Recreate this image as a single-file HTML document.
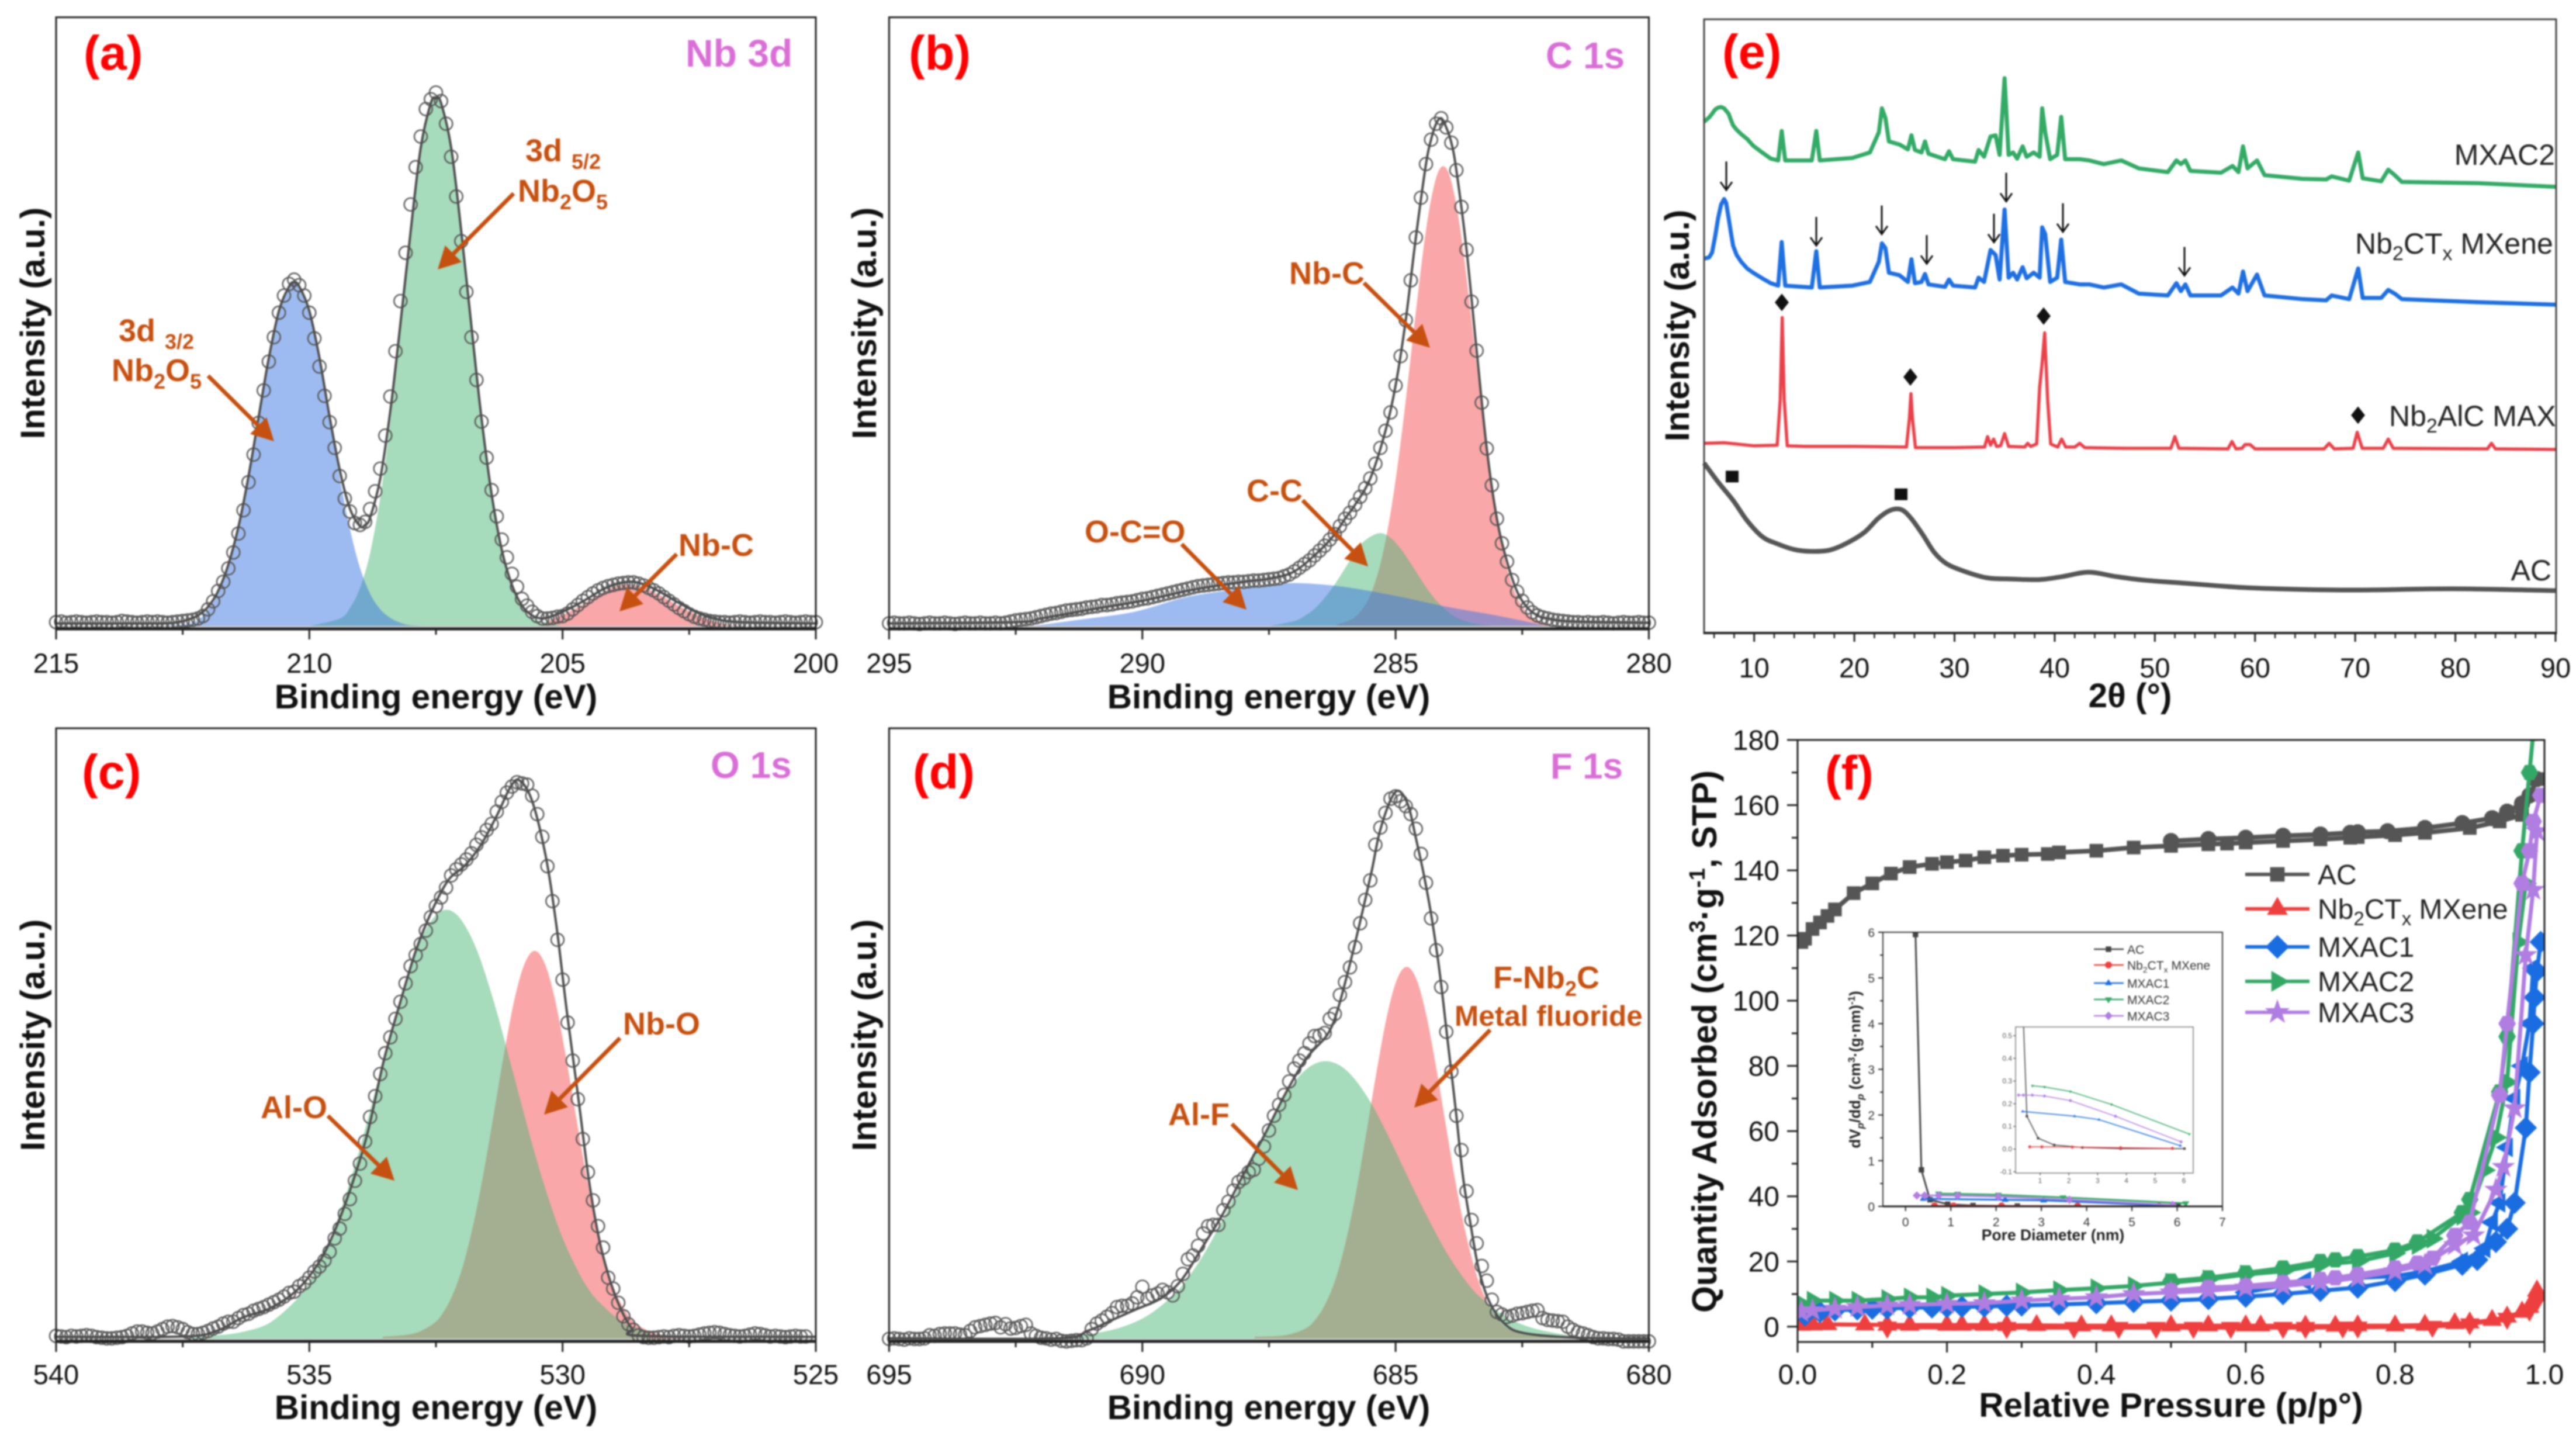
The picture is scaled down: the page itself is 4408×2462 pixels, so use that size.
<!DOCTYPE html>
<html lang="en">
<head>
<meta charset="utf-8">
<title>XPS, XRD and BET characterisation of Nb2CTx MXene and MXAC composites</title>
<style>
html,body{margin:0;padding:0;background:#fff;}
svg{display:block;font-family:"Liberation Sans",sans-serif;filter:blur(1.2px);}
.lab{font-weight:700;font-size:83px;fill:#f00;}
.core{font-weight:700;fill:#d96fd6;}
.ann{font-weight:700;font-size:54px;fill:#c5500f;}
.ttl{font-weight:700;font-size:58.5px;fill:#111;}
.srs{font-size:50px;fill:#222;}
.leg{font-size:48px;fill:#222;}
.ileg{font-size:21px;fill:#333;}
</style>
</head>
<body>
<svg id="figure" xmlns="http://www.w3.org/2000/svg" width="4408" height="2462" viewBox="0 0 4408 2462">
<rect width="4408" height="2462" fill="#fff"/>
<defs>
<clipPath id="clip-f"><rect x="3076" y="1266" width="1278" height="1030"/></clipPath>
<clipPath id="clip-inset"><rect x="3222" y="1595" width="581" height="469"/></clipPath>
<clipPath id="clip-nested"><rect x="3449" y="1757" width="304" height="250"/></clipPath>
</defs>

<g id="panel-a"></g>
<g id="panel-b"></g>
<g id="panel-c"></g>
<g id="panel-d"></g>
<g id="panel-e"></g>
<g id="panel-f"></g>
<g id="annotations"></g>

<g>
<text class="lab" x="143" y="119">(a)</text>
<text class="core" x="1173" y="114" font-size="66">Nb 3d</text>
<text class="ttl" x="746" y="1212" text-anchor="middle">Binding energy (eV)</text>
<text class="ttl" transform="translate(76 553) rotate(-90)" text-anchor="middle">Intensity (a.u.)</text>
<text class="ann" x="899" y="276">3d<tspan font-size="36" dx="16" dy="13">5/2</tspan></text>
<text class="ann" x="886" y="345">Nb<tspan font-size="36" dy="13">2</tspan><tspan dy="-13">O</tspan><tspan font-size="36" dy="13">5</tspan></text>
<text class="ann" x="203" y="584">3d<tspan font-size="36" dx="16" dy="13">3/2</tspan></text>
<text class="ann" x="191" y="652">Nb<tspan font-size="36" dy="13">2</tspan><tspan dy="-13">O</tspan><tspan font-size="36" dy="13">5</tspan></text>
<text class="ann" x="1161" y="951">Nb-C</text>
</g>

<g>
<text class="lab" x="1555" y="119">(b)</text>
<text class="core" x="2645" y="117" font-size="64">C 1s</text>
<text class="ttl" x="2171" y="1212" text-anchor="middle">Binding energy (eV)</text>
<text class="ttl" transform="translate(1499 553) rotate(-90)" text-anchor="middle">Intensity (a.u.)</text>
<text class="ann" x="2206" y="486">Nb-C</text>
<text class="ann" x="2133" y="858">C-C</text>
<text class="ann" x="1856" y="928">O-C=O</text>
</g>

<g>
<text class="lab" x="140" y="1349">(c)</text>
<text class="core" x="1216" y="1331" font-size="64">O 1s</text>
<text class="ttl" x="746" y="2428" text-anchor="middle">Binding energy (eV)</text>
<text class="ttl" transform="translate(76 1771) rotate(-90)" text-anchor="middle">Intensity (a.u.)</text>
<text class="ann" x="1066" y="1770">Nb-O</text>
<text class="ann" x="446" y="1913">Al-O</text>
</g>

<g>
<text class="lab" x="1562" y="1349">(d)</text>
<text class="core" x="2653" y="1332" font-size="62">F 1s</text>
<text class="ttl" x="2171" y="2428" text-anchor="middle">Binding energy (eV)</text>
<text class="ttl" transform="translate(1499 1771) rotate(-90)" text-anchor="middle">Intensity (a.u.)</text>
<text class="ann" x="2555" y="1691">F-Nb<tspan font-size="36" dy="13">2</tspan><tspan dy="-13">C</tspan></text>
<text class="ann" x="2489" y="1755" style="font-size:49.5px">Metal fluoride</text>
<text class="ann" x="1999" y="1925">Al-F</text>
</g>

<g>
<text class="lab" x="2947" y="117">(e)</text>
<text class="ttl" x="3645" y="1210" text-anchor="middle">2θ (°)</text>
<text class="ttl" transform="translate(2890 557) rotate(-90)" text-anchor="middle">Intensity (a.u.)</text>
<text class="srs" x="4372" y="282" text-anchor="end">MXAC2</text>
<text class="srs" x="4030" y="434">Nb<tspan font-size="34" dy="11">2</tspan><tspan dy="-11">CT</tspan><tspan font-size="34" dy="11">x</tspan><tspan dy="-11"> MXene</tspan></text>
<text class="srs" x="4088" y="729">Nb<tspan font-size="34" dy="11">2</tspan><tspan dy="-11">AlC MAX</tspan></text>
<text class="srs" x="4366" y="993" text-anchor="end">AC</text>
</g>

<g>
<text class="lab" x="3123" y="1351">(f)</text>
<text class="ttl" x="3715" y="2424" text-anchor="middle">Relative Pressure (p/p°)</text>
<text class="ttl" transform="translate(2937 1782) rotate(-90)" text-anchor="middle" style="font-size:59px">Quantity Adsorbed (cm<tspan font-size="38" dy="-20">3</tspan><tspan dy="20">·g</tspan><tspan font-size="38" dy="-20">-1</tspan><tspan dy="20">, STP)</tspan></text>
<text x="3513" y="2122" text-anchor="middle" font-size="26.5" font-weight="700" fill="#222">Pore Diameter (nm)</text>
<text transform="translate(3183 1830) rotate(-90)" text-anchor="middle" font-size="26" font-weight="700" fill="#222">dV<tspan font-size="17" font-style="italic" dy="6">p</tspan><tspan dy="-6">/dd</tspan><tspan font-size="17" font-style="italic" dy="6">p</tspan><tspan dy="-6"> (cm</tspan><tspan font-size="17" dy="-9">3</tspan><tspan dy="9">·(g·nm)</tspan><tspan font-size="17" dy="-9">-1</tspan><tspan dy="9">)</tspan></text>
</g>
</svg>

<script>
// ---------- Panel (a) Nb 3d data ----------
const aTicks = [215, 210, 205, 200];
const aCircleStart = 215;
const aCircleStep = -0.1;
const aCircleI = [1.1,1.2,1.0,1.1,1.2,1.1,1.0,1.1,1.2,1.1,1.1,1.0,1.1,1.3,1.2,1.1,1.0,1.1,1.2,1.1,1.2,1.1,1.0,1.1,1.2,1.3,1.4,1.5,1.7,
2.1,3.2,4.5,6.2,7.7,9.9,12.5,15.6,19.4,24.0,28.5,33.7,39.0,43.7,47.7,51.7,54.5,56.4,57.1,56.2,54.5,51.7,47.5,42.9,38.1,33.8,29.6,25.0,21.3,19.2,17.3,17.0,17.5,19.6,22.5,26.2,31.6,38.0,45.4,53.6,61.5,69.4,75.5,80.5,85.0,86.6,87.7,86.3,82.6,77.2,70.7,63.4,55.1,47.7,40.7,33.9,28.0,22.7,18.4,14.6,11.7,9.0,6.9,4.9,3.8,2.8,2.1,1.7,
1.7,1.8,2.0,2.1,2.5,3.2,3.9,4.6,5.2,5.8,6.3,6.7,7.0,7.2,7.4,7.5,7.6,7.6,7.4,7.1,6.7,6.3,5.8,5.2,4.6,4.0,3.4,2.9,2.4,2.0,1.7,1.5,1.3,1.2,
1.1,1.1,1.0,1.1,1.2,1.1,1.0,1.1,1.2,1.1,1.1,1.0,1.1,1.2,1.1,1.0,1.1,1.2,1.1,1.1];
const aFitE = [215,213,212.6,212.4,212.2,212,211.8,211.6,211.4,211.2,211,210.8,210.6,210.4,210.3,210.2,210,209.8,209.6,209.4,209.2,209,208.9,208.8,208.6,208.4,208.2,208,207.8,207.6,207.5,207.4,207.2,207,206.8,206.6,206.4,206.2,206,205.8,205.6,205.4,205.2,205,204.8,204.6,204.4,204.2,204,203.8,203.6,203.4,203.2,203,202.8,202.6,202.4,202.2,202,201.5,200];
const aFitI = [0.9,0.9,1.1,1.5,2.2,3.6,6.2,10.5,16.7,25,34.7,44.3,52,56,56.7,56,52,44.3,34.7,26,19.7,16.8,17,18.2,24.6,35.7,50,65,78.7,86,86.8,86,78.7,65,49.5,34.4,22,12.9,7.2,3.8,2.2,1.7,2.1,2.8,3.6,4.5,5.5,6.5,7.2,7.6,7.7,7.3,6.6,5.7,4.7,3.8,2.9,2.2,1.7,1.1,0.9];
const aBlueE = [213,212.3,212,211.8,211.6,211.4,211.2,211,210.8,210.6,210.4,210.3,210.2,210,209.8,209.6,209.4,209.2,209,208.8,208.6,208.4,208.2,208,207.6];
const aBlueI = [0.45,1.0,3.2,5.75,10,16.4,24.7,34.3,43.9,51.7,56.2,56.75,56.2,51.7,43.9,34.3,24.7,16.4,10,5.75,3.2,1.8,1,0.6,0.45];
const aGreenE = [210,209.4,209.2,209,208.8,208.6,208.4,208.2,208,207.8,207.6,207.5,207.4,207.2,207,206.8,206.6,206.4,206.2,206,205.8,205.6,205];
const aGreenI = [0.45,1.7,3.4,6.7,12.4,21.5,33.9,49,64.5,78.2,85.5,86.85,85.5,78.2,64.5,49,33.9,21.5,12.4,6.7,3.4,1.7,0.45];
const aPinkE = [205.4,205.2,205,204.8,204.6,204.4,204.2,204,203.8,203.68,203.4,203.2,203,202.8,202.6,202.4,202.2,202,201.8,201.5];
const aPinkI = [0.45,1.6,2.3,3.1,4,5,6,6.8,7.2,7.25,6.8,6,5.2,4.2,3.3,2.5,1.8,1.2,0.8,0.45];

// ---------- Panel (b) C 1s data ----------
const bTicks = [295, 290, 285, 280];
const bCircleStart = 295;
const bCircleStep = -0.1;
const bCircleI = [0.9,1.0,0.9,0.9,1.0,0.9,0.8,0.9,1.0,0.9,0.9,1.0,0.9,0.8,0.9,1.0,0.9,0.9,1.0,0.9,0.9,1.0,0.9,
1.0,1.2,1.4,1.5,1.6,1.7,1.9,2.1,2.3,2.5,2.6,2.8,3.0,3.1,3.2,3.3,3.5,3.6,3.7,3.9,3.9,4.0,4.2,4.3,4.4,4.5,4.7,4.9,5.0,5.2,5.4,5.6,5.8,6.0,6.2,6.4,6.6,6.8,7.0,7.1,7.2,7.3,7.4,7.5,7.6,7.6,7.7,7.7,7.8,7.9,7.9,8.0,8.1,8.2,8.3,8.6,8.9,9.4,10,10.6,11.2,12,12.8,13.6,14.6,15.5,16.8,18,19,20.3,21.6,23,24.6,27,29.6,32.4,35.4,39.8,44.6,50.5,57,64,70.5,76,80,82.6,83.5,82,79.5,75,69,62,53.5,45.5,37,29.5,23.5,18,14,11,8,6.1,4.6,3.5,2.7,2.2,1.9,1.7,1.5,1.4,1.3,1.2,
1.1,1.1,1.0,1.1,1.0,1.0,1.1,1.0,0.9,1.0,1.1,1.0,1.0,1.1,1.0,1.0];
const bFitE = [295,292.5,292,291,290,289,288,287.5,287,286.5,286.2,286,285.8,285.5,285.2,285,284.8,284.6,284.4,284.3,284.2,284.1,284,283.9,283.8,283.6,283.4,283.2,283,282.8,282.6,282.4,282.2,282,281.5,280];
const bFitI = [0.9,1.1,1.7,3.2,4.6,6.4,7.7,8.2,9.4,12.8,15.5,18,20.3,24.6,32.4,39.8,50.5,64,76,80,82.6,83.5,82,79.5,75,62,45.5,29.5,18,11,6.1,3.5,2.2,1.7,1.2,1.0];
const bRedE = [286.16,285.86,285.66,285.46,285.26,285.06,284.86,284.66,284.56,284.46,284.36,284.26,284.16,284.06,283.96,283.86,283.76,283.66,283.56,283.46,283.26,283.06,282.86,282.66,282.46,282.26,281.96];
const bRedI = [0.7,1.6,3.2,6.3,12,21,33.2,47.5,54.7,61.5,67.4,71.8,74.7,75.65,74.7,71.8,67.4,61.5,54.7,47.5,33.2,21,12,6.3,3.2,1.6,0.7];
const bGreenE = [287.5,287,286.8,286.6,286.4,286.2,286,285.8,285.6,285.32,285.1,284.9,284.7,284.5,284.3,284.1,283.9,283.7,283.4,283];
const bGreenI = [0.45,1.3,2.1,3.3,5.1,7.3,9.9,12.5,14.5,15.65,14.9,13.1,10.7,8.1,5.7,3.8,2.4,1.5,0.8,0.45];
const bBlueE = [292.2,291.2,290.16,289.13,288.1,287.5,286.96,286.04,285,283.98,282.95,282];
const bBlueI = [0.45,1.56,2.8,5.2,6.5,7.1,7.5,6.9,5.4,3.6,2.1,0.45];

// ---------- Panel (c) O 1s data ----------
const cTicks = [540, 535, 530, 525];
const cCircleStart = 540;
const cCircleStep = -0.1;
const cCircleI = [0.9,0.8,0.7,0.9,0.8,0.9,1.0,0.9,0.7,0.6,0.5,0.5,0.6,0.7,0.9,1.3,1.6,1.6,1.4,1.3,1.6,2.0,2.4,2.5,2.3,2.0,1.5,1.2,1.2,1.4,1.7,2.1,2.4,2.9,3.2,3.2,3.8,4.3,4.5,5.0,5.3,5.6,6.0,6.4,6.8,7.3,7.9,8.1,9.0,9.5,10.4,11.4,12.2,13.2,14.6,16.8,18.4,20.8,23.2,26.2,29,32.6,36.6,40,43.6,47,49.6,52.6,55.4,58.4,61.2,63,64.8,67,69.2,71,72.4,74,76,77,77.8,78.6,79.6,81,82.2,83.4,84.4,86.4,88,89.5,90.5,91.2,91,90.8,89,86,82.3,77.5,71.8,65.5,59,52,45.8,39.5,33,27.6,23,18.8,15.3,10.4,8.6,6.3,4.1,2.8,1.9,1.0,0.7,0.6,0.6,0.7,0.8,0.7,0.9,1.0,0.9,0.8,0.9,1.1,1.3,1.4,1.5,1.4,1.2,1.0,0.9,0.8,0.9,1.1,1.3,1.2,1.0,0.8,0.9,0.8,0.7,0.8,0.9,0.8,0.8];
const cFitE = [540,537.5,536.84,536.31,535.78,535.24,534.81,534.49,534.17,533.85,533.53,533.21,532.89,532.57,532.25,531.93,531.61,531.29,531.03,530.85,530.6,530.33,530.12,529.91,529.69,529.48,529.27,529.05,528.84,528.63,528.41,525];
const cFitI = [0.75,0.8,1.7,3.9,5.4,8.4,12.9,18.2,25.3,34,45.8,55.2,63.9,70.4,75.3,77.6,81,85.9,90.4,91.5,88.1,79,67.7,53.4,39.8,26.3,16.4,9.6,5.1,2.1,0.9,0.75];
const cGreenE = [537.29,536.79,536.29,535.79,535.29,535.04,534.79,534.54,534.29,534.04,533.79,533.54,533.29,533.09,532.89,532.69,532.49,532.29,532.09,531.89,531.69,531.49,531.29,531.04,530.79,530.54,530.29,530.04,529.79,529.54,529.29,528.79,528.29];
const cGreenI = [0.75,1.0,1.6,3,6.5,9.2,13,17.7,23.6,30.4,38,45.8,53.5,59,63.8,67.3,69.6,70.4,69.6,67.3,63.8,59,53.5,45.8,38,30.4,23.6,17.7,13,9.2,6.5,3,1.6];
const cPinkE = [533.55,532.95,532.55,532.35,532.15,531.95,531.75,531.55,531.35,531.15,530.95,530.75,530.55,530.35,530.15,529.95,529.75,529.55,529.35,529.15,528.95,528.75,528.55,528.15,527.55];
const cPinkI = [0.75,1.25,2.9,4.8,8,12.8,19.5,27.9,37.5,47.2,55.8,61.6,63.7,61.6,55.8,47.2,37.5,27.9,19.5,12.8,8,4.8,2.9,1.25,0.75];

// ---------- Panel (d) F 1s data ----------
const dTicks = [695, 690, 685, 680];
const dCircleStart = 695;
const dCircleStep = -0.1;
const dCircleI = [0.4,0.5,0.4,0.3,0.5,0.4,0.4,0.5,1.0,0.9,1.2,1.3,1.3,1.3,1.1,1.0,1.7,2.3,2.5,2.7,2.9,3.0,2.3,2.8,2.1,2.2,2.5,2.7,1.3,0.9,0.6,0.5,0.3,0.4,0.1,0.0,0.1,0.2,0.2,0.5,2.0,2.9,3.4,4.0,4.6,5.6,5.8,5.8,6.2,7.2,8.9,7.0,7.5,7.8,8.4,8.0,7.5,9.0,11,13.4,14,15.6,17.6,18.8,19,19,21.4,22.8,24.6,26,26.6,27.6,28,29.8,31.8,34.4,36.8,38.6,40.2,42.4,44.5,45.8,47,48.6,49.8,49.9,50.3,52.6,53.4,56.5,58.6,61,64.3,68.2,72,75.2,81,83.8,86.2,88.5,88.9,88.1,87.3,86,83.6,79.5,74.8,69,63.8,57.8,50.5,44,36.8,31.2,24.5,19.8,16,12.3,9.9,6.8,4.8,4.4,4,4.2,4.5,4.6,4.8,5,5.1,3.8,3.5,3.4,3.3,3.2,2.4,1.9,1.5,1.3,1,0.7,0.5,0.5,0.4,0.4,0.3,0,0,0,0,0,0];
const dFitE = [695,691.7,691.09,690.67,690.16,689.64,689.23,688.82,688.41,688,687.58,687.17,686.76,686.35,686.14,685.88,685.68,685.47,685.32,685.11,684.94,684.75,684.6,684.44,684.29,684.13,683.98,683.82,683.67,683.51,683.36,683.15,682.84,682.43,681.4,680];
const dFitI = [0.5,0.5,1.7,3.2,5.1,7,10,15.3,20.8,27.3,33.8,40.5,46.2,50,54.2,62.3,69.2,76.8,82.9,88.1,89.8,87.4,82.1,76,69.2,60.2,49.6,38.3,26.9,18.6,11.8,6.5,2.8,1.3,0.6,0.5];
const dGreenE = [691.38,690.88,690.38,689.88,689.38,689.08,688.78,688.48,688.18,687.88,687.58,687.28,686.98,686.68,686.38,686.08,685.78,685.48,685.18,684.88,684.58,684.28,683.98,683.68,683.38,682.88,682.38,681.88,681.38];
const dGreenI = [0.75,1.4,2.4,4.3,7.6,10.6,14.3,18.8,23.7,28.9,34.1,38.8,42.5,44.9,45.7,44.9,42.5,38.8,34.1,28.9,23.7,18.8,14.3,10.6,7.6,4.3,2.4,1.4,0.75];
const dPinkE = [687.78,687.18,686.78,686.58,686.38,686.18,685.98,685.78,685.58,685.38,685.18,684.98,684.78,684.58,684.38,684.18,683.98,683.78,683.58,683.38,683.18,682.98,682.78,682.38,681.78];
const dPinkI = [0.75,1,2.1,3.6,6.2,10.3,16.4,24.3,33.9,43.8,52.7,58.9,61.1,58.9,52.7,43.8,33.9,24.3,16.4,10.3,6.2,3.6,2.1,1,0.75];

// ---------- Panel (e) XRD data ----------
const eTicks = [10, 20, 30, 40, 50, 60, 70, 80, 90];
const eAcT = [5,6.4,7.9,9.3,10.8,12.2,14,15.7,17.5,19.2,21,22.4,23.6,24.7,25.65,26.8,28,29.2,30.9,33.2,35.6,38.5,40.8,43.4,46.1,49,53.1,58.9,64.7,70.6,79.9,90];
const eAcI = [27.7,24.6,21.6,18.3,15.7,14.6,13.6,13.3,13.5,14.6,16.4,18.7,20,20.1,18.7,16.1,13.1,11.3,10.1,9,8.8,8.7,9.2,9.9,9.2,8.6,8.1,7.4,7.1,7,7.2,6.9];
const eMaxT = [5,7,10,12.3,12.6,12.8,13,13.3,15,20,25.2,25.5,25.65,25.8,26.1,30,33,33.3,33.6,33.9,34.2,34.6,35,35.4,37,37.3,37.6,38.2,38.5,38.75,39,39.3,39.6,40.3,40.7,41.1,42,42.5,43,47,51.6,52,52.4,57.3,57.7,58.1,58.7,59,59.5,60,66.9,67.4,67.9,69.8,70.2,70.7,72.8,73.3,73.8,83.2,83.6,84,90];
const eMaxI = [30.9,31,30.5,30.6,38,51.4,38,30.5,30.4,30.4,30.3,35,39,35,30.2,30.2,30.3,32,30.6,31.6,30.4,30.5,32.5,30.4,30.3,30.9,30.4,30.8,40,44,48.9,38,30.8,30.3,31.6,30.3,30.3,30.9,30.2,30.1,30.1,32,30.1,30,31.2,30,30.1,30.7,30.7,30,30,30.9,30,30.1,32.7,30.1,30.1,31.6,30.1,30,30.9,30,29.9];
const eSharedT = [5,5.5,5.8,6.1,6.4,6.7,7,7.2,7.45,7.7,7.9,8.25,8.7,9.3,9.9,10.8,11.65,12.4,12.75,13.1,15.75,16.2,16.55,19.8,21.55,22.45,22.75,23.1,23.45,24.5,25.35,25.7,26.05,26.7,27.05,27.4,29.05,29.45,29.85,32.05,32.4,32.95,33.6,34.1,34.5,35,35.4,35.85,36.25,36.8,37.2,37.9,38.5,38.75,39.05,39.55,40.25,40.65,41.05,42.5,43.45,44.9,46.65,48.4,51.3,52.15,52.6,53.05,53.55,56.6,57.75,58.35,58.8,59.25,60.2,60.95,64.75,67.1,67.65,69.4,70.3,70.75,72.6,73.3,73.95,74.65,82.25,90];
const eMxeneI = [61,61.2,62,64.6,67.6,69.8,70.7,70.1,67.6,65,63.1,61.6,60.5,59.4,58.7,57.8,57,56.6,63.7,56.6,56.3,62.2,56.3,56.6,57.2,60.5,63.5,62.7,58.7,58.3,57.2,60.9,57.0,57.2,58.5,56.8,56.4,57.6,56.6,56.3,57.9,57.2,62.4,61.6,57.6,69.0,57.9,58.7,57.6,59.6,57.8,58.7,57.9,66.1,65.0,57.2,57.9,64.1,57.2,56.8,56.8,56.3,56.8,55.3,55.0,57.0,55.7,56.8,55.0,55.0,56.3,55.3,58.9,55.7,58.4,55.0,54.4,54.2,55.0,54.4,59.4,54.6,54.6,55.9,55.3,54.4,53.9,53.5];
const eMxac2I = [83.3,84,84.6,85.3,85.6,85.7,85.5,85.1,84.6,83.5,82.7,82,81.3,80.5,79.4,78.3,77.3,77.0,81.8,77.0,77.0,81.8,77.0,77.4,78.3,81.6,85.5,83.9,80.1,79.6,78.8,81.1,78.7,78.3,80.1,78.1,77.2,78.5,77.2,76.8,78.7,77.6,80.9,81.1,77.9,90.4,77.9,78.3,77.3,79.3,77.6,78.3,77.6,85.5,81.6,77.2,77.9,84.1,77.2,77.2,77.0,76.4,77.0,75.7,75.1,77.0,76.4,77.0,75.3,75.0,76.1,75.1,79.3,75.7,77.0,74.6,74,73.9,74.4,73.7,78.3,74.1,73.6,75.5,74.6,73.5,73.3,72.7];

// ---------- Panel (f) isotherm data ----------
const fXTicks = [0, 0.2, 0.4, 0.6, 0.8, 1];
const fXTickLabels = ['0.0', '0.2', '0.4', '0.6', '0.8', '1.0'];
const fYTicks = [0, 20, 40, 60, 80, 100, 120, 140, 160, 180];
const fAcAdsP = [0.005,0.01,0.02,0.03,0.04,0.05,0.075,0.1,0.125,0.15,0.18,0.2,0.225,0.25,0.275,0.3,0.335,0.35,0.4,0.45,0.5,0.55,0.575,0.6,0.65,0.7,0.74,0.75,0.8,0.84,0.9,0.94,0.97,0.99];
const fAcAdsQ = [118,119,122,124,126,128,133,136,139,141,142,142.5,143,144,144.5,144.8,145,145.5,146,147,147.5,148,148.2,148.5,149,149.5,150,150.2,150.8,151.5,153,155,157,168];
const fAcDesP = [0.5,0.55,0.6,0.65,0.7,0.74,0.75,0.79,0.84,0.89,0.93,0.95,0.97,0.98,0.99];
const fAcDesQ = [149,149.6,150,150.6,151,151.5,151.7,152,153,154.5,156,158,160.5,163,168];
const fNbAdsP = [0.005,0.02,0.04,0.09,0.12,0.15,0.2,0.22,0.25,0.28,0.32,0.38,0.42,0.5,0.55,0.6,0.62,0.68,0.72,0.75,0.8,0.84,0.88,0.9,0.93,0.95,0.97,0.98,0.99];
const fNbAdsQ = [0.5,0.6,0.7,0.6,0.5,0.5,0.5,0.5,0.5,0.4,0.4,0.3,0.3,0.3,0.3,0.3,0.3,0.2,0.2,0.3,0.3,0.5,1,1.2,2,3,4.5,6,11];
const fNbDesP = [0.12,0.28,0.37,0.43,0.48,0.53,0.58,0.65,0.68,0.73,0.75,0.85,0.9,0.95,0.98,0.99];
const fNbDesQ = [-0.2,-0.3,-0.3,-0.3,-0.3,-0.3,-0.3,-0.3,-0.3,-0.2,-0.2,0,0.8,2.5,5,8];
const fM1AdsP = [0.01,0.03,0.05,0.08,0.1,0.12,0.15,0.18,0.2,0.22,0.25,0.28,0.3,0.35,0.4,0.45,0.5,0.55,0.6,0.65,0.7,0.75,0.8,0.84,0.89,0.91,0.935,0.95,0.96,0.975,0.98,0.985,0.987,0.99,0.995];
const fM1AdsQ = [3.5,4.5,5,5.3,5.5,5.6,5.8,5.9,6,6.1,6.2,6.4,6.5,6.8,7.2,7.6,8,8.5,9.2,10,11,12,14,16,19,20.5,26,30,38,61,78,93,101,109,118];
const fM1DesP = [0.6,0.68,0.75,0.8,0.84,0.89,0.92,0.93,0.94,0.95,0.96,0.97,0.98,0.985];
const fM1DesQ = [10.5,14,15,15.5,17,20,24,32,38,55,70,80,93,110];
const fM2AdsP = [0.005,0.02,0.05,0.08,0.12,0.15,0.18,0.2,0.25,0.3,0.35,0.4,0.45,0.5,0.55,0.6,0.65,0.7,0.75,0.8,0.83,0.85,0.89,0.9,0.92,0.935,0.95,0.965,0.975];
const fM2AdsQ = [7,8,8,8,8.5,9,9,9.5,10,10.5,11.2,11.8,12.5,13.5,14.5,16,17,19,20,22.5,25,27,34,35,48,58,75,118,136];
const fM2DesP = [0.5,0.55,0.6,0.65,0.7,0.72,0.75,0.8,0.83,0.89,0.9,0.94,0.95,0.97,0.98,0.985];
const fM2DesQ = [14,15,16.5,18,20,20.5,21.5,23.5,26,35,39,72,89,146,170,182];
const fM3AdsP = [0.005,0.02,0.05,0.08,0.12,0.15,0.2,0.25,0.3,0.35,0.4,0.45,0.5,0.55,0.6,0.65,0.7,0.75,0.8,0.84,0.88,0.905,0.935,0.945,0.96,0.975,0.985,0.99];
const fM3AdsQ = [4.5,5,5.5,6,6.5,6.7,7,7.2,8,8.5,9,10,10.5,11,12,12.5,13.5,15,17,19,25,28,42,49,67,114,134,152];
const fM3DesP = [0.5,0.55,0.6,0.65,0.7,0.72,0.75,0.8,0.83,0.85,0.88,0.9,0.94,0.95,0.97,0.98,0.985,0.995];
const fM3DesQ = [11,12,12.5,13.5,14.5,15,16,18,19.5,21,28,32,71,93,136,146,155,163];

// ---------- Inset pore-size data ----------
const insetXTicks = [0, 1, 2, 3, 4, 5, 6, 7];
const insetYTicks = [0, 1, 2, 3, 4, 5, 6];
const nestedXTicks = [1, 2, 3, 4, 5, 6];
const nestedYTicks = [-0.1, 0, 0.1, 0.2, 0.3, 0.4, 0.5];
const nestedYLabels = ['-0.1', '0.0', '0.1', '0.2', '0.3', '0.4', '0.5'];
const poreAcD = [0.22,0.35,0.54,0.93,1.49,2.47,3.8,6.02];
const poreAcV = [5.95,0.8,0.145,0.048,0.018,0.007,0.002,0.002];
const poreNbD = [0.64,1.06,2.12,3.8,5.6];
const poreNbV = [0.01,0.01,0.009,0.006,0.003];
const poreM1D = [0.39,2.2,3.05,5.88];
const poreM1V = [0.166,0.145,0.13,0.015];
const poreM2D = [0.73,1.15,2.05,3.48,6.19];
const poreM2V = [0.279,0.274,0.254,0.197,0.066];
const poreM3D = [0.25,0.42,0.73,1.15,2.05,3.62,5.9];
const poreM3V = [0.238,0.238,0.238,0.234,0.214,0.145,0.032];

// ---------- helpers ----------
const NS = 'http://www.w3.org/2000/svg';
function mk(tag, attrs, parent) {
  const n = document.createElementNS(NS, tag);
  for (const k in attrs) n.setAttribute(k, attrs[k]);
  parent.appendChild(n);
  return n;
}
function scale(d0, d1, r0, r1) {
  return v => r0 + (v - d0) / (d1 - d0) * (r1 - r0);
}
function smoothPath(pts) {
  let s = 'M' + pts[0][0].toFixed(1) + ' ' + pts[0][1].toFixed(1);
  for (let i = 0; i < pts.length - 1; i++) {
    const p0 = pts[Math.max(0, i - 1)], p1 = pts[i], p2 = pts[i + 1], p3 = pts[Math.min(pts.length - 1, i + 2)];
    const c1x = p1[0] + (p2[0] - p0[0]) / 6, c1y = p1[1] + (p2[1] - p0[1]) / 6;
    const c2x = p2[0] - (p3[0] - p1[0]) / 6, c2y = p2[1] - (p3[1] - p1[1]) / 6;
    s += 'C' + c1x.toFixed(1) + ' ' + c1y.toFixed(1) + ' ' + c2x.toFixed(1) + ' ' + c2y.toFixed(1) + ' ' + p2[0].toFixed(1) + ' ' + p2[1].toFixed(1);
  }
  return s;
}
function linePts(xs, ys, fx, fy) {
  return xs.map((v, i) => fx(v).toFixed(1) + ',' + fy(ys[i]).toFixed(1)).join(' ');
}
function zip(xs, ys, fx, fy) {
  return xs.map((v, i) => [fx(v), fy(ys[i])]);
}

function drawFrame(g, x0, x1, yTop, yBot, name, color) {
  const r = mk('rect', {x: x0, y: yTop, width: x1 - x0, height: yBot - yTop, fill: 'none', stroke: color, 'stroke-width': 3}, g);
  
  
  const b = mk('line', {x1: x0 - 1.5, x2: x1 + 1.5, y1: yBot, y2: yBot, stroke: '#222', 'stroke-width': 5}, g);
  
  
}
function tickLine(g, x1, y1, x2, y2, name, w) {
  const t = mk('line', {x1: x1, y1: y1, x2: x2, y2: y2, stroke: '#222', 'stroke-width': w}, g);
  
  
}
function tickText(g, x, y, str, anchor, size, color, name) {
  const t = mk('text', {x: x, y: y, 'text-anchor': anchor, 'font-size': size, fill: color}, g);
  t.textContent = str;
  
  
}

function drawXps(cfg, peaks, fitE, fitI, circleStart, circleStep, circleI) {
  const g = document.getElementById(cfg.id);
  const fx = scale(cfg.ticks[0], cfg.ticks[cfg.ticks.length - 1], cfg.x0, cfg.x1);
  const fy = scale(0, 100, cfg.yBot, cfg.yTop);
  const base = fy(0.4);
  peaks.forEach(pk => {
    const pts = zip(pk.e, pk.i, fx, fy);
    const d = smoothPath(pts) + 'L' + pts[pts.length - 1][0].toFixed(1) + ' ' + base + 'L' + pts[0][0].toFixed(1) + ' ' + base + 'Z';
    const a = mk('path', {d: d, fill: pk.color, stroke: 'none'}, g);
    
    
  });
  const band = mk('line', {x1: cfg.x0, x2: cfg.x1, y1: fy(0.3), y2: fy(0.3), stroke: '#cfcfcf', 'stroke-width': 4}, g);
  
  
  circleI.forEach((v, i) => {
    const c = mk('circle', {cx: fx(circleStart + circleStep * i).toFixed(1), cy: fy(v).toFixed(1), r: 11, fill: 'none', stroke: '#555', 'stroke-width': 2.4}, g);
    
    
  });
  const fit = mk('path', {d: smoothPath(zip(fitE, fitI, fx, fy)), fill: 'none', stroke: '#4d4d4d', 'stroke-width': 4}, g);
  
  
  drawFrame(g, cfg.x0, cfg.x1, cfg.yTop, cfg.yBot, cfg.name, '#222');
  cfg.ticks.forEach((t, i) => {
    tickLine(g, fx(t), cfg.yBot, fx(t), cfg.yBot + 18, cfg.name + '-major-tick', 3);
    tickText(g, fx(t), cfg.labelY, String(t), 'middle', 47, '#111', cfg.name + '-x-tick-label');
    if (i < cfg.ticks.length - 1) {
      const m = (t + cfg.ticks[i + 1]) / 2;
      tickLine(g, fx(m), cfg.yBot, fx(m), cfg.yBot + 10, cfg.name + '-minor-tick', 3);
    }
  });
}

const BLUE = 'rgba(60,120,225,0.5)';
const GREEN = 'rgba(77,183,120,0.5)';
const PINK = 'rgba(243,80,82,0.5)';

drawXps({id: 'panel-a', name: 'panel-a', x0: 96, x1: 1396, yTop: 29.6, yBot: 1076, labelY: 1151, ticks: aTicks},
  [{e: aPinkE, i: aPinkI, color: PINK, label: 'nb-c'}, {e: aGreenE, i: aGreenI, color: GREEN, label: '3d-5-2'}, {e: aBlueE, i: aBlueI, color: BLUE, label: '3d-3-2'}],
  aFitE, aFitI, aCircleStart, aCircleStep, aCircleI);
drawXps({id: 'panel-b', name: 'panel-b', x0: 1521.4, x1: 2821.5, yTop: 29.6, yBot: 1076, labelY: 1151, ticks: bTicks},
  [{e: bRedE, i: bRedI, color: PINK, label: 'nb-c'}, {e: bGreenE, i: bGreenI, color: GREEN, label: 'c-c'}, {e: bBlueE, i: bBlueI, color: BLUE, label: 'o-c-o'}],
  bFitE, bFitI, bCircleStart, bCircleStep, bCircleI);
drawXps({id: 'panel-c', name: 'panel-c', x0: 96, x1: 1396, yTop: 1246, yBot: 2295, labelY: 2368, ticks: cTicks},
  [{e: cPinkE, i: cPinkI, color: PINK, label: 'nb-o'}, {e: cGreenE, i: cGreenI, color: GREEN, label: 'al-o'}],
  cFitE, cFitI, cCircleStart, cCircleStep, cCircleI);
drawXps({id: 'panel-d', name: 'panel-d', x0: 1521.4, x1: 2821.5, yTop: 1246, yBot: 2295, labelY: 2368, ticks: dTicks},
  [{e: dPinkE, i: dPinkI, color: PINK, label: 'f-nb2c'}, {e: dGreenE, i: dGreenI, color: GREEN, label: 'al-f'}],
  dFitE, dFitI, dCircleStart, dCircleStep, dCircleI);

// ---------- XRD ----------
(function () {
  const g = document.getElementById('panel-e');
  const fx = scale(5, 90, 2916, 4373);
  const fy = scale(0, 100, 1083, 33);
  const ac = mk('path', {d: smoothPath(zip(eAcT, eAcI, fx, fy)), fill: 'none', stroke: '#555555', 'stroke-width': 8}, g);
  
  
  const series = [
    {t: eMaxT, i: eMaxI, c: '#e8414a', w: 5.5, n: 'nb2alc-max'},
    {t: eSharedT, i: eMxeneI, c: '#1e6fe0', w: 7, n: 'nb2ctx-mxene'},
    {t: eSharedT, i: eMxac2I, c: '#33aa66', w: 7, n: 'mxac2'}
  ];
  series.forEach(s => {
    const l = mk('polyline', {points: linePts(s.t, s.i, fx, fy), fill: 'none', stroke: s.c, 'stroke-width': s.w, 'stroke-linejoin': 'round'}, g);
    
    
  });
  const r = mk('rect', {x: 2916, y: 33, width: 1458, height: 1050, fill: 'none', stroke: '#444', 'stroke-width': 3}, g);
  
  
  const ax = mk('line', {x1: 2915, x2: 4375, y1: 1083, y2: 1083, stroke: '#222', 'stroke-width': 4}, g);
  
  
  for (let m = 6; m <= 90; m += 2) {
    tickLine(g, fx(m), 1083, fx(m), 1092, 'panel-e-minor-tick', 2.5);
  }
  eTicks.forEach(t => {
    tickLine(g, fx(t), 1083, fx(t), 1098, 'panel-e-major-tick', 3);
    tickText(g, fx(t), 1159, String(t), 'middle', 47, '#111', 'panel-e-x-tick-label');
  });
  // down arrows above Nb2CTx reflections
  [[114,355,418],[268,477,540],[380,452,515],[457,517,580],[572,470,533],[593,380,443],[690,447,510],[898,543,606]].forEach(a => {
    const x = 2840 + a[0], y1 = a[1] * 0.778, y2 = a[2] * 0.778;
    const p = mk('path', {d: 'M' + x + ' ' + y1 + 'V' + y2 + 'M' + (x - 10) + ' ' + (y2 - 14) + 'L' + x + ' ' + y2 + 'L' + (x + 10) + ' ' + (y2 - 14), fill: 'none', stroke: '#111', 'stroke-width': 3}, g);
    
    
  });
  [[209,665],[657,695],[429,829],[1195,913]].forEach(a => {
    const x = 2840 + a[0], y = a[1] * 0.778;
    const p = mk('polygon', {points: x + ',' + (y - 15) + ' ' + (x + 12) + ',' + y + ' ' + x + ',' + (y + 15) + ' ' + (x - 12) + ',' + y, fill: '#111'}, g);
    
    
  });
  [[124,1048],[413,1087]].forEach(a => {
    const x = 2840 + a[0], y = a[1] * 0.778;
    const p = mk('rect', {x: x - 11, y: y - 10, width: 22, height: 20, fill: '#111'}, g);
    
    
  });
})();

// ---------- peak arrows ----------
(function () {
  const g = document.getElementById('annotations');
  function arrow(x1, y1, x2, y2, name) {
    const dx = x2 - x1, dy = y2 - y1, len = Math.hypot(dx, dy), ux = dx / len, uy = dy / len;
    const hl = 38, hw = 20, bx = x2 - ux * hl, by = y2 - uy * hl;
    const a = mk('g', {}, g);
    
    
    mk('line', {x1: x1, y1: y1, x2: bx, y2: by, stroke: '#c5500f', 'stroke-width': 7}, a);
    mk('polygon', {points: x2 + ',' + y2 + ' ' + (bx - uy * hw) + ',' + (by + ux * hw) + ' ' + (bx + uy * hw) + ',' + (by - ux * hw), fill: '#c5500f'}, a);
  }
  arrow(879, 331, 749, 461, 'arrow-3d-5-2');
  arrow(356, 643, 469, 755, 'arrow-3d-3-2');
  arrow(1158, 948, 1060, 1046, 'arrow-nb-c-a');
  arrow(2334, 484, 2447, 595, 'arrow-nb-c-b');
  arrow(2229, 856, 2341, 969, 'arrow-c-c');
  arrow(2022, 931, 2133, 1043, 'arrow-o-c-o');
  arrow(1061, 1776, 931, 1907, 'arrow-nb-o');
  arrow(561, 1909, 675, 2020, 'arrow-al-o');
  arrow(2550, 1762, 2420, 1895, 'arrow-f-nb2c');
  arrow(2108, 1923, 2221, 2036, 'arrow-al-f');
})();

// ---------- Isotherms ----------
const markerScale = {square: 15, circle: 14, up: 17, down: 17, left: 17, right: 17, diamond: 16, hex: 15, star: 17};
function shapePoints(kind, x, y, r) {
  const poly = (n, rot, rr) => {
    const out = [];
    for (let i = 0; i < n; i++) {
      const a = rot + i * 2 * Math.PI / n;
      out.push((x + rr * Math.cos(a)).toFixed(1) + ',' + (y + rr * Math.sin(a)).toFixed(1));
    }
    return out.join(' ');
  };
  if (kind === 'square') return poly(4, Math.PI / 4, r * 1.1);
  if (kind === 'up') return poly(3, -Math.PI / 2, r * 1.15);
  if (kind === 'down') return poly(3, Math.PI / 2, r * 1.15);
  if (kind === 'left') return poly(3, Math.PI, r * 1.15);
  if (kind === 'right') return poly(3, 0, r * 1.15);
  if (kind === 'diamond') return poly(4, 0, r * 1.2);
  if (kind === 'hex') return poly(6, 0, r);
  if (kind === 'circle') return poly(14, 0, r);
  const out = [];
  for (let i = 0; i < 10; i++) {
    const a = -Math.PI / 2 + i * Math.PI / 5, rr = i % 2 ? r * 0.5 : r * 1.25;
    out.push((x + rr * Math.cos(a)).toFixed(1) + ',' + (y + rr * Math.sin(a)).toFixed(1));
  }
  return out.join(' ');
}
function drawMarker(g, kind, x, y, r, color, name) {
  const m = mk('polygon', {points: shapePoints(kind, x, y, r), fill: color}, g);
  
  
}
function addSubscriptLabel(g, x, y, cls, subSize, drop, name) {
  const t = mk('text', {x: x, y: y, class: cls}, g);
  
  
  t.appendChild(document.createTextNode('Nb'));
  const s1 = mk('tspan', {'font-size': subSize, dy: drop}, t);
  s1.textContent = '2';
  const s2 = mk('tspan', {dy: -drop}, t);
  s2.textContent = 'CT';
  const s3 = mk('tspan', {'font-size': subSize, dy: drop}, t);
  s3.textContent = 'x';
  const s4 = mk('tspan', {dy: -drop}, t);
  s4.textContent = ' MXene';
}
(function () {
  const g = document.getElementById('panel-f');
  const fx = scale(0, 1, 3076, 4354);
  const fy = scale(-4.7, 180, 2296, 1266);
  const plot = mk('g', {'clip-path': 'url(#clip-f)'}, g);
  
  
  const iso = [
    {n: 'ac', c: '#555555', w: 8, sets: [[fAcAdsP, fAcAdsQ, 'square'], [fAcDesP, fAcDesQ, 'circle']]},
    {n: 'nb2ctx-mxene', c: '#ee3f3f', w: 7, sets: [[fNbAdsP, fNbAdsQ, 'up'], [fNbDesP, fNbDesQ, 'down']]},
    {n: 'mxac1', c: '#1a6de0', w: 7, sets: [[fM1AdsP, fM1AdsQ, 'diamond'], [fM1DesP, fM1DesQ, 'left']]},
    {n: 'mxac2', c: '#33a866', w: 7, sets: [[fM2AdsP, fM2AdsQ, 'right'], [fM2DesP, fM2DesQ, 'hex']]},
    {n: 'mxac3', c: '#b07de0', w: 7, sets: [[fM3AdsP, fM3AdsQ, 'star'], [fM3DesP, fM3DesQ, 'hex']]}
  ];
  iso.forEach(s => {
    s.sets.forEach(set => {
      const l = mk('polyline', {points: linePts(set[0], set[1], fx, fy), fill: 'none', stroke: s.c, 'stroke-width': s.w, 'stroke-linejoin': 'round'}, plot);
      
      
      set[0].forEach((p, i) => {
        drawMarker(plot, set[2], fx(p), fy(set[1][i]), markerScale[set[2]], s.c, 'isotherm-point-' + s.n);
      });
    });
  });
  const r = mk('rect', {x: 3076, y: 1266, width: 1278, height: 1030, fill: 'none', stroke: '#222', 'stroke-width': 3}, g);
  
  
  fXTicks.forEach((t, i) => {
    tickLine(g, fx(t), 2296, fx(t), 2314, 'panel-f-x-major-tick', 3);
    tickText(g, fx(t), 2368, fXTickLabels[i], 'middle', 48, '#111', 'panel-f-x-tick-label');
    if (i < fXTicks.length - 1) {
      tickLine(g, fx((t + fXTicks[i + 1]) / 2), 2296, fx((t + fXTicks[i + 1]) / 2), 2306, 'panel-f-x-minor-tick', 3);
    }
  });
  fYTicks.forEach((t, i) => {
    tickLine(g, 3076, fy(t), 3058, fy(t), 'panel-f-y-major-tick', 3);
    tickText(g, 3045, fy(t) + 17, String(t), 'end', 48, '#111', 'panel-f-y-tick-label');
    if (i < fYTicks.length - 1) {
      tickLine(g, 3076, fy(t + 10), 3066, fy(t + 10), 'panel-f-y-minor-tick', 3);
    }
  });
  // legend
  const rows = [
    ['#555555', 'square', 1496, 'AC'],
    ['#ee3f3f', 'up', 1555, null],
    ['#1a6de0', 'diamond', 1620, 'MXAC1'],
    ['#33a866', 'right', 1679, 'MXAC2'],
    ['#b07de0', 'star', 1732, 'MXAC3']
  ];
  rows.forEach(row => {
    const l = mk('line', {x1: 3842, x2: 3952, y1: row[2], y2: row[2], stroke: row[0], 'stroke-width': 6}, g);
    
    
    drawMarker(g, row[1], 3897, row[2], markerScale[row[1]] + 1, row[0], 'legend-marker');
    if (row[3]) {
      const t = mk('text', {x: 3966, y: row[2] + 17, class: 'leg'}, g);
      t.textContent = row[3];
      
      
    }
  });
  addSubscriptLabel(g, 3966, 1572, 'leg', 33, 11, 'legend-entry-nb2ctx');

  // inset
  const ins = mk('g', {}, g);
  
  
  const ix = scale(-0.5, 7, 3222, 3803);
  const iy = scale(0, 6, 2064, 1595);
  const nx = scale(1, 6, 3491, 3737);
  const ny = scale(0, 0.5, 1966, 1772);
  const pore = [
    {n: 'ac', c: '#444444', d: poreAcD, v: poreAcV, k: 'square'},
    {n: 'nb2ctx-mxene', c: '#ee3f3f', d: poreNbD, v: poreNbV, k: 'circle'},
    {n: 'mxac1', c: '#1a6de0', d: poreM1D, v: poreM1V, k: 'up'},
    {n: 'mxac2', c: '#33a866', d: poreM2D, v: poreM2V, k: 'down'},
    {n: 'mxac3', c: '#b07de0', d: poreM3D, v: poreM3V, k: 'diamond'}
  ];
  const iplot = mk('g', {'clip-path': 'url(#clip-inset)'}, ins);
  
  
  pore.forEach(s => {
    const l = mk('polyline', {points: linePts(s.d, s.v, ix, iy), fill: 'none', stroke: s.c, 'stroke-width': 3}, iplot);
    
    
    s.d.forEach((d, i) => {
      drawMarker(iplot, s.k, ix(d), iy(s.v[i]), 6, s.c, 'pore-point-' + s.n);
    });
  });
  const ir = mk('rect', {x: 3222, y: 1595, width: 581, height: 469, fill: 'none', stroke: '#333', 'stroke-width': 2}, ins);
  
  
  const ib = mk('line', {x1: 3222, x2: 3803, y1: 2064, y2: 2064, stroke: '#222', 'stroke-width': 3}, ins);
  
  
  insetXTicks.forEach(t => {
    tickLine(ins, ix(t), 2064, ix(t), 2072, 'inset-x-tick', 2);
    tickText(ins, ix(t), 2098, String(t), 'middle', 21, '#333', 'inset-x-tick-label');
  });
  insetYTicks.forEach((t, i) => {
    tickLine(ins, 3222, iy(t), 3214, iy(t), 'inset-y-tick', 2);
    tickText(ins, 3208, iy(t) + 8, String(t), 'end', 21, '#333', 'inset-y-tick-label');
    if (i < insetYTicks.length - 1) {
      tickLine(ins, 3222, iy(t + 0.5), 3217, iy(t + 0.5), 'inset-y-minor-tick', 2);
    }
  });
  const legRows = [
    ['#444444', 'square', 1624, 'AC'],
    ['#ee3f3f', 'circle', 1651, null],
    ['#1a6de0', 'up', 1682, 'MXAC1'],
    ['#33a866', 'down', 1710, 'MXAC2'],
    ['#b07de0', 'diamond', 1738, 'MXAC3']
  ];
  legRows.forEach(row => {
    const l = mk('line', {x1: 3583, x2: 3634, y1: row[2], y2: row[2], stroke: row[0], 'stroke-width': 2.5}, ins);
    
    
    drawMarker(ins, row[1], 3608, row[2], 6, row[0], 'inset-legend-marker');
    if (row[3]) {
      const t = mk('text', {x: 3640, y: row[2] + 8, class: 'ileg'}, ins);
      t.textContent = row[3];
      
      
    }
  });
  addSubscriptLabel(ins, 3640, 1659, 'ileg', 14, 5, 'inset-legend-entry-nb2ctx');

  // nested zoomed inset
  const nest = mk('g', {}, ins);
  
  
  const nplot = mk('g', {'clip-path': 'url(#clip-nested)'}, nest);
  
  
  pore.forEach(s => {
    const l = mk('polyline', {points: linePts(s.d, s.v, nx, ny), fill: 'none', stroke: s.c, 'stroke-width': 1.6}, nplot);
    
    
    s.d.forEach((d, i) => {
      drawMarker(nplot, s.k, nx(d), ny(s.v[i]), 2.6, s.c, 'zoom-pore-point-' + s.n);
    });
  });
  const nr = mk('rect', {x: 3449, y: 1757, width: 304, height: 250, fill: 'none', stroke: '#777', 'stroke-width': 1.5}, nest);
  
  
  nestedXTicks.forEach(t => {
    tickLine(nest, nx(t), 2007, nx(t), 2011, 'zoom-x-tick', 1);
    tickText(nest, nx(t), 2024, String(t), 'middle', 12, '#555', 'zoom-x-tick-label');
  });
  nestedYTicks.forEach((t, i) => {
    tickLine(nest, 3449, ny(t), 3445, ny(t), 'zoom-y-tick', 1);
    tickText(nest, 3443, ny(t) + 4, nestedYLabels[i], 'end', 12, '#555', 'zoom-y-tick-label');
  });
})();
</script>
</body>
</html>
